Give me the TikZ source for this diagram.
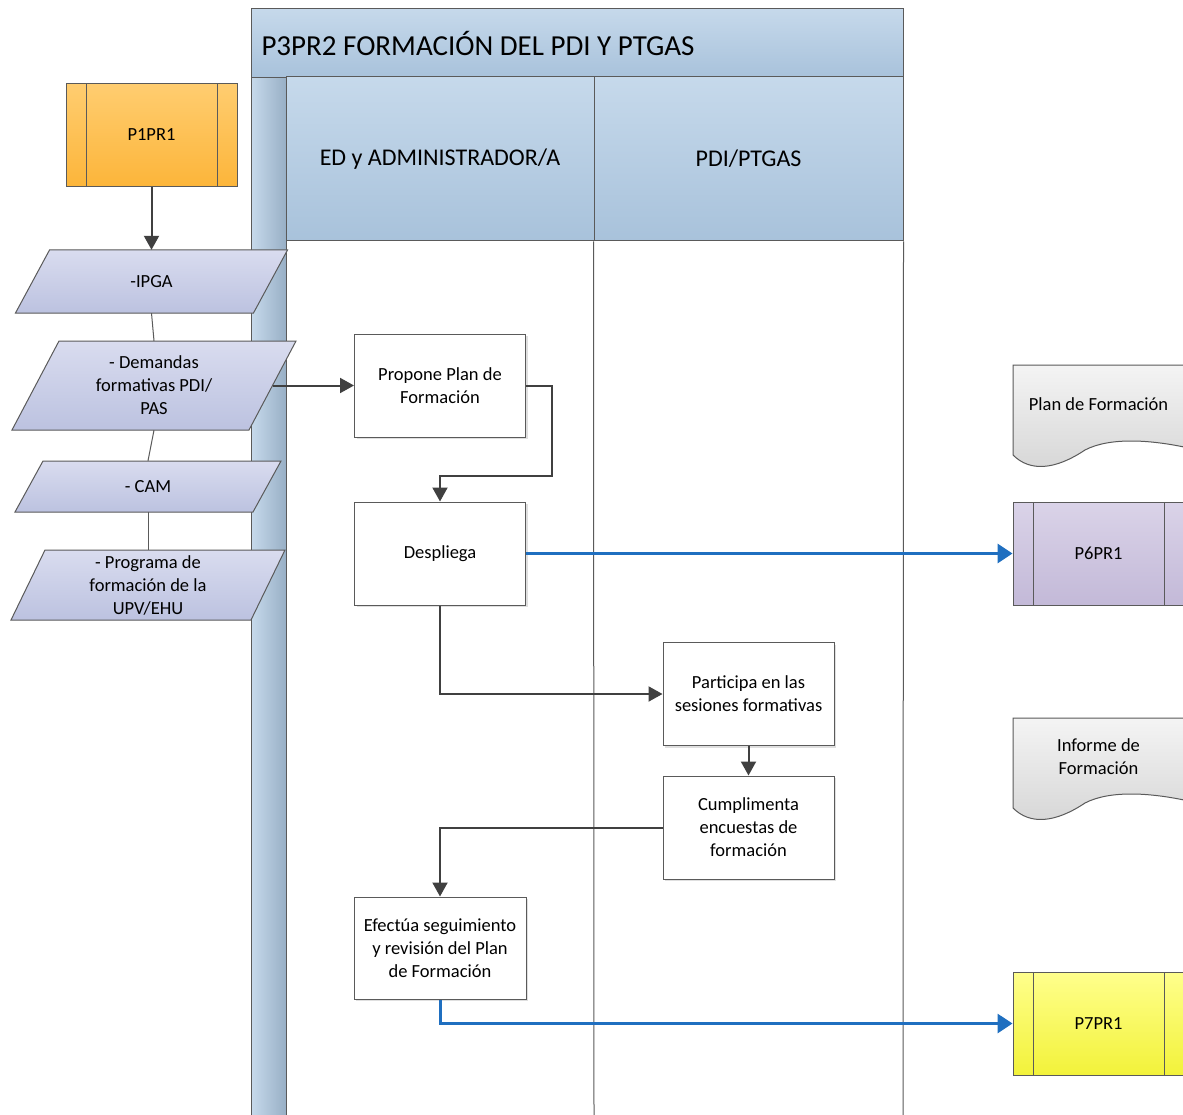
\documentclass[tikz,border=0pt]{standalone}
\usepackage{fontspec}
\setmainfont{Carlito}
\usetikzlibrary{arrows.meta,shadows,calc}
\definecolor{lineg}{HTML}{404040}
\definecolor{edge}{HTML}{5A5A5A}
\definecolor{bluec}{HTML}{1F6FC0}
\definecolor{hdtop}{HTML}{C6D9EB}
\definecolor{hdbot}{HTML}{A8C2DB}
\definecolor{partop}{HTML}{D9DCEF}
\definecolor{parbot}{HTML}{BCC2E0}
\definecolor{doctop}{HTML}{F4F4F4}
\definecolor{docbot}{HTML}{D6D6D6}
\newcommand\bodyfont{\fontsize{18.5}{23}\selectfont}
\newcommand\myPara[7]{% name, cx, cy, w, h, slant, text
  \shade[top color=partop, bottom color=parbot, draw=edge, line width=1pt]
    ({#2-#4/2-#6},{#3+#5/2}) -- ({#2+#4/2-#6},{#3+#5/2}) --
    ({#2+#4/2+#6},{#3-#5/2}) -- ({#2-#4/2+#6},{#3-#5/2}) -- cycle;
  \node[minimum width=#4pt, minimum height=#5pt, inner sep=0pt, align=flush center, font=\bodyfont] (#1) at (#2,#3) {#7};
}
\newcommand\myDoc[4]{% name, left x, top y, text
  \shade[top color=doctop, bottom color=docbot, draw=edge, line width=1pt]
    (#2,#3) -- ({#2+171},#3) -- ({#2+171},{#3+82})
    .. controls ({#2+137},{#3+75}) and ({#2+97},{#3+72}) .. ({#2+72},{#3+85})
    .. controls ({#2+42},{#3+105}) and ({#2+17},{#3+107}) .. (#2,{#3+90}) -- cycle;
  \node[align=flush center, font=\bodyfont, inner sep=0pt] (#1) at ({#2+85.5},{#3+39}) {#4};
}
\begin{document}
\begin{tikzpicture}[x=1pt,y=-1pt,
  box/.style={draw=edge, fill=white, line width=1pt, minimum width=171pt, minimum height=103pt,
    align=flush center, font=\bodyfont, inner sep=2pt,
    drop shadow={shadow xshift=2pt, shadow yshift=-2pt, opacity=0.25}},
  pp/.style={draw=edge, line width=1pt, minimum width=171pt, minimum height=103pt, font=\bodyfont,
    path picture={\draw[edge, line width=1pt]
      ([xshift=20pt]path picture bounding box.north west) -- ([xshift=20pt]path picture bounding box.south west)
      ([xshift=-20pt]path picture bounding box.north east) -- ([xshift=-20pt]path picture bounding box.south east);}},
  hdr/.style={draw=edge, line width=1pt, top color=hdtop, bottom color=hdbot, inner sep=0pt},
  conn/.style={draw=lineg, line width=2pt, -{Triangle[length=14pt,width=15pt]}},
  bconn/.style={draw=bluec, line width=3pt, -{Triangle[length=15pt,width=19pt]}},
  plain/.style={draw=edge, line width=1pt}
]
\useasboundingbox (0,0) rectangle (1183,1115);
\fill[white] (0,0) rectangle (1183,1115);

% pool
\node[hdr, anchor=north west, minimum width=652pt, minimum height=69pt, text width=632pt,
  inner xsep=10pt, align=flush left, font=\fontsize{29}{32}\selectfont] (title) at (251,8)
  {P3PR2 FORMACIÓN DEL PDI Y PTGAS};
\node[draw=edge, line width=1pt, left color=hdtop, right color=hdbot!90!black, anchor=north west,
  minimum width=35pt, minimum height=1041pt, inner sep=0pt] (strip) at (251,77) {};
\node[hdr, minimum width=308pt, minimum height=164pt, font=\fontsize{24}{28}\selectfont] (lane1) at (440,159) {ED y ADMINISTRADOR/A};
\node[hdr, minimum width=309pt, minimum height=164pt, font=\fontsize{24}{28}\selectfont] (lane2) at (748.5,159) {PDI/PTGAS};
\draw[plain] (lane2.south west) -- (594,1118);
\draw[plain] (lane2.south east) -- (903,1118);

% inputs
\node[pp, top color={rgb,255:red,255;green,205;blue,112}, bottom color={rgb,255:red,252;green,181;blue,58}] (p1) at (151.5,135) {P1PR1};
\myPara{ipga}{151.5}{281.5}{238}{63}{17}{-IPGA}
\myPara{dem}{154}{385.5}{237}{89}{23.5}{- Demandas\\formativas PDI/\\PAS}
\myPara{cam}{148}{486.5}{238}{51}{14}{- CAM}
\myPara{prog}{148}{585}{240}{70}{17}{- Programa de\\formación de la\\UPV/EHU}

% process
\node[box] (propone) at (440,385.5) {Propone Plan de\\Formación};
\node[box] (despliega) at (440,553.5) {Despliega};
\node[box] (participa) at (748.5,694) {Participa en las\\sesiones formativas};
\node[box] (cumpl) at (748.5,827.5) {Cumplimenta\\encuestas de\\formación};
\node[box, minimum width=172pt, minimum height=102pt] (efectua) at (440,948) {Efectúa seguimiento\\y revisión del Plan\\de Formación};

% outputs
\myDoc{plandoc}{1013}{365}{Plan de Formación}
\myDoc{informe}{1013}{718}{Informe de\\Formación}
\node[pp, top color={rgb,255:red,218;green,211;blue,232}, bottom color={rgb,255:red,195;green,185;blue,216}] (p6) at (1098.5,553.5) {P6PR1};
\node[pp, top color={rgb,255:red,255;green,255;blue,140}, bottom color={rgb,255:red,242;green,242;blue,58}] (p7) at (1098.5,1023.5) {P7PR1};

% connectors
\draw[conn] (p1.south) -- (ipga.north);
\draw[plain] (ipga.south) -- (dem.north);
\draw[plain] (dem.south) -- (cam.north);
\draw[plain] (cam.south) -- (prog.north);
\draw[conn] (dem.east) -- (propone.west);
\draw[conn] (propone.east) -- ++(26,0) |- ([yshift=26pt]despliega.north) -- (despliega.north);
\draw[bconn] (despliega.east) -- (p6.west);
\draw[conn] (despliega.south) |- (participa.west);
\draw[conn] (participa.south) -- (cumpl.north);
\draw[conn] (cumpl.west) -| (efectua.north);
\draw[bconn] (efectua.south) |- (p7.west);
\end{tikzpicture}
\end{document}
